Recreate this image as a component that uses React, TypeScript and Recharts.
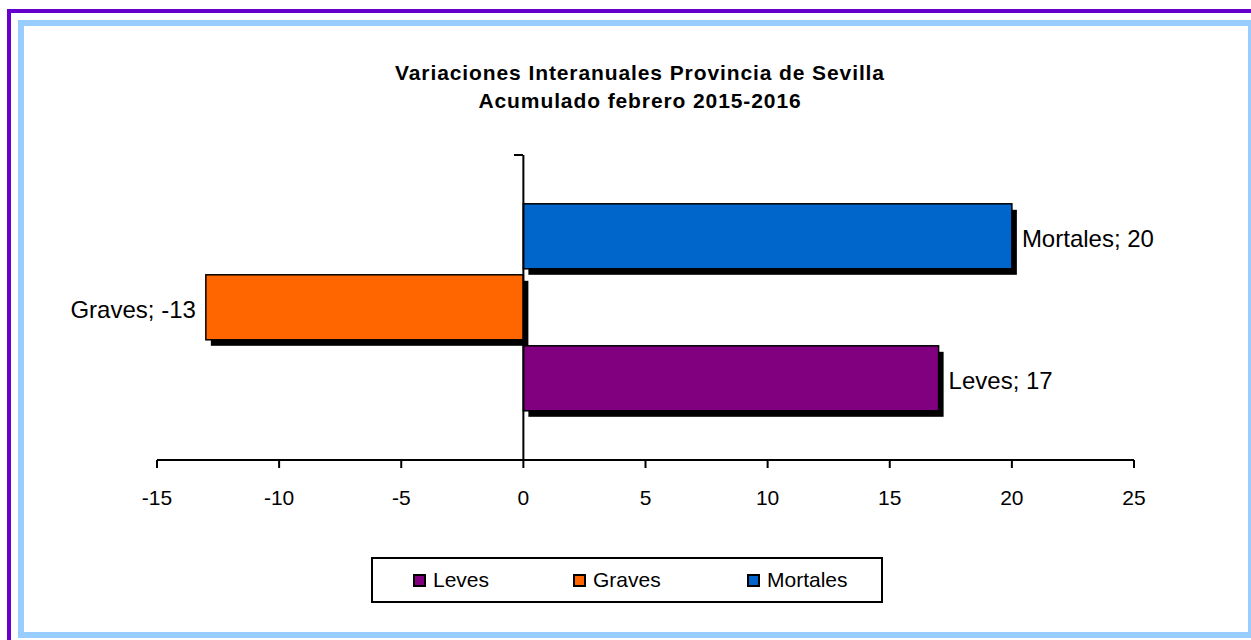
import React from "react"
import { Bar, BarChart, LabelList, ReferenceLine, XAxis, YAxis } from "recharts"

// datos interanuales (acumulado febrero 2015-2016)
const categories = [""]
const seriesNames = ["Leves", "Graves", "Mortales"]
const leves = [17]
const graves = [-13]
const mortales = [20]
const xTicks = [-15, -10, -5, 0, 5, 10, 15, 20, 25]

const colors: Record<string, string> = {
    Leves: "#800080",
    Graves: "#FF6600",
    Mortales: "#0066CC",
}

const FONT = "Arial, 'Liberation Sans', sans-serif"

const data = categories.map((name, i) => ({
    name,
    Leves: leves[i],
    Graves: graves[i],
    Mortales: mortales[i],
}))

const ShadowBar = (props: any) => {
    const { x, y, width, height, fill } = props
    const x0 = Math.min(x, x + width)
    const y0 = Math.min(y, y + height)
    const w = Math.abs(width)
    const h = Math.abs(height)
    return (
        <g>
            <rect x={x0 + 5} y={y0 + 6} width={w} height={h} fill="#000" />
            <rect x={x0} y={y0} width={w} height={h} fill={fill} stroke="#000" strokeWidth={1.5} />
        </g>
    )
}

const makeLabel = (serie: string) => (props: any) => {
    const { x, y, width, height, value } = props
    const v = Number(value)
    const neg = v < 0
    const left = Math.min(x, x + width)
    const right = Math.max(x, x + width)
    return (
        <text
            x={neg ? left - 10 : right + 10}
            y={y + height / 2 + 2}
            textAnchor={neg ? "end" : "start"}
            dominantBaseline="central"
            fontFamily={FONT}
            fontSize={24}
            fill="#000"
        >
            {`${serie}; ${v}`}
        </text>
    )
}

const LegendBox = () => (
    <div
        style={{
            position: "absolute",
            left: 371,
            top: 557,
            boxSizing: "border-box",
            width: 512,
            height: 46,
            border: "2px solid #000",
            fontFamily: FONT,
            fontSize: 21,
            color: "#000",
        }}
    >
        {seriesNames.map((s, i) => (
            <div
                key={s}
                style={{
                    position: "absolute",
                    left: [40, 200, 374][i],
                    top: 9,
                    display: "flex",
                    alignItems: "center",
                    lineHeight: "24px",
                }}
            >
                <span
                    style={{
                        display: "inline-block",
                        boxSizing: "border-box",
                        width: 13,
                        height: 13,
                        background: colors[s],
                        border: "2px solid #000",
                        marginRight: 7,
                    }}
                />
                {s}
            </div>
        ))}
    </div>
)

export default function App() {
    return (
        <div
            style={{
                position: "fixed",
                left: 0,
                top: 0,
                width: 1251,
                height: 640,
                overflow: "hidden",
                background: "#fff",
            }}
        >
            <div
                style={{
                    position: "absolute",
                    left: 7,
                    top: 9,
                    width: 1260,
                    height: 650,
                    border: "4px solid #6600CC",
                    boxSizing: "border-box",
                }}
            />
            <div
                style={{
                    position: "absolute",
                    left: 18,
                    top: 20,
                    width: 1236,
                    height: 618,
                    border: "6px solid #99CCFF",
                    boxSizing: "border-box",
                }}
            />
            <div
                style={{
                    position: "absolute",
                    left: 290,
                    top: 59,
                    width: 700,
                    textAlign: "center",
                    fontFamily: FONT,
                    fontWeight: "bold",
                    fontSize: 21,
                    letterSpacing: 0.9,
                    lineHeight: "28px",
                    color: "#000",
                }}
            >
                Variaciones Interanuales Provincia de Sevilla
                <br />
                Acumulado febrero 2015-2016
            </div>
            <div
                style={{
                    position: "absolute",
                    left: 514,
                    top: 154,
                    width: 9,
                    height: 2,
                    background: "#000",
                }}
            />
            <div style={{ position: "absolute", left: 0, top: 0 }}>
                <BarChart
                    layout="vertical"
                    data={data}
                    width={1251}
                    height={640}
                    margin={{ top: 155, right: 117, bottom: 140, left: 157 }}
                    barCategoryGap="16%"
                    barGap={6}
                >
                    <XAxis
                        type="number"
                        domain={[-15, 25]}
                        ticks={xTicks}
                        interval={0}
                        height={40}
                        axisLine={{ stroke: "#000", strokeWidth: 2 }}
                        tickLine={{ stroke: "#000", strokeWidth: 2 }}
                        tickSize={8}
                        tickMargin={22}
                        tick={{ fill: "#000", fontFamily: FONT, fontSize: 21 }}
                    />
                    <YAxis type="category" dataKey="name" hide />
                    <ReferenceLine x={0} stroke="#000" strokeWidth={2} />
                    {["Mortales", "Graves", "Leves"].map((s) => (
                        <Bar
                            key={s}
                            dataKey={s}
                            fill={colors[s]}
                            shape={ShadowBar}
                            isAnimationActive={false}
                        >
                            <LabelList dataKey={s} content={makeLabel(s)} />
                        </Bar>
                    ))}
                </BarChart>
            </div>
            <LegendBox />
        </div>
    )
}
